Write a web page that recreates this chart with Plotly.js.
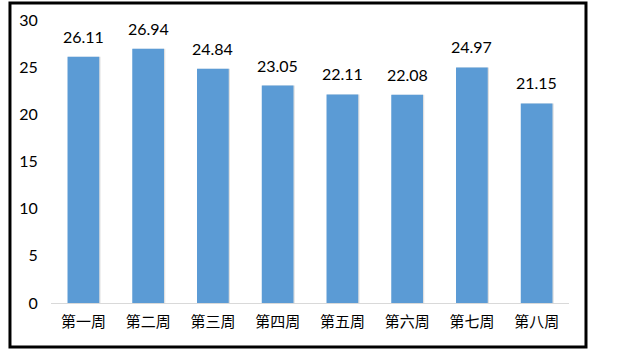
<!DOCTYPE html>
<html><head><meta charset="utf-8">
<script src="https://cdn.plot.ly/plotly-3.0.1.min.js"></script>
<style>html,body{margin:0;padding:0;background:#fff;}#chart{width:623px;height:355px;}</style>
</head><body><div id="chart"></div>
<script>
const categories = ["第一周","第二周","第三周","第四周","第五周","第六周","第七周","第八周"];
const values = [26.11, 26.94, 24.84, 23.05, 22.11, 22.08, 24.97, 21.15];
const yTicks = [0, 5, 10, 15, 20, 25, 30];

const shadow = {
  type: 'bar', x: categories, y: values,
  width: 0.5, offset: -0.235,
  marker: {color: 'rgba(0,0,0,0.12)'},
  hoverinfo: 'skip', showlegend: false
};
const bars = {
  type: 'bar', x: categories, y: values,
  width: 0.49, offset: -0.245,
  marker: {color: '#5B9BD5'},
  showlegend: false
};
const annotations = categories.map((c, i) => ({
  x: c, y: values[i], xref: 'x', yref: 'y',
  text: values[i].toFixed(2), showarrow: false,
  yanchor: 'bottom', yshift: 9,
  font: {family: 'Lato, "Liberation Sans", sans-serif', size: 16, color: '#000'}
}));
const layout = {
  width: 623, height: 355,
  margin: {l: 51, r: 54, t: 20, b: 52},
  paper_bgcolor: '#fff', plot_bgcolor: '#fff',
  barmode: 'overlay',
  showlegend: false,
  xaxis: {
    type: 'category', showgrid: false, zeroline: false,
    showline: true, linecolor: '#d9d9d9', linewidth: 1,
    ticks: 'outside', ticklen: 5, tickcolor: 'rgba(0,0,0,0)',
    tickfont: {family: '"Noto Sans CJK SC", sans-serif', size: 15, color: '#000'}
  },
  yaxis: {
    range: [0, 30], tickvals: yTicks, showgrid: false, zeroline: false,
    showline: false,
    ticks: 'outside', ticklen: 9, tickcolor: 'rgba(0,0,0,0)',
    tickfont: {family: 'Lato, "Liberation Sans", sans-serif', size: 16, color: '#000'}
  },
  annotations: annotations,
  shapes: [{
    type: 'rect', xref: 'paper', yref: 'paper',
    x0: -0.0792, x1: 1.0328, y0: -0.1555, y1: 1.0601,
    line: {color: '#000', width: 3}, fillcolor: 'rgba(0,0,0,0)', layer: 'above'
  }]
};
Plotly.newPlot('chart', [shadow, bars], layout, {staticPlot: true, displayModeBar: false});
</script></body></html>
